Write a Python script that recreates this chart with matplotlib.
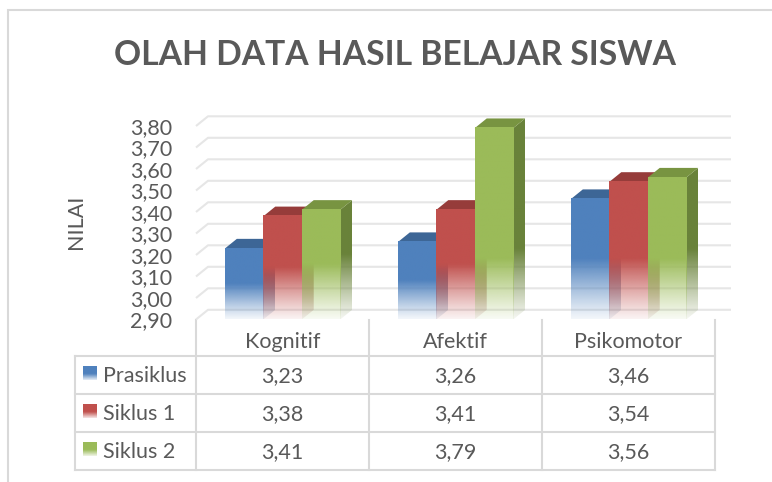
import numpy as np
import matplotlib
matplotlib.use('Agg')
import matplotlib.pyplot as plt
from matplotlib.patches import Polygon
from matplotlib import colors as mcolors

# ---------------- data ----------------
categories = ['Kognitif', 'Afektif', 'Psikomotor']
series_names = ['Prasiklus', 'Siklus 1', 'Siklus 2']
prasiklus = [3.23, 3.26, 3.46]
siklus1 = [3.38, 3.41, 3.54]
siklus2 = [3.41, 3.79, 3.56]
y_ticks = [2.90, 3.00, 3.10, 3.20, 3.30, 3.40, 3.50, 3.60, 3.70, 3.80]
title_text = 'OLAH DATA HASIL BELAJAR SISWA'
y_label = 'NILAI'

series_values = [prasiklus, siklus1, siklus2]
front_colors = ['#4F81BD', '#C0504D', '#9BBB59']
top_colors = ['#3D6696', '#963C3A', '#789441']
side_colors = ['#355A87', '#8A3533', '#69823A']

plt.rcParams['font.family'] = ['Lato', 'DejaVu Sans']
TXT = '#595959'
GRID = '#E6E6E6'
LINE = '#D9D9D9'

W, H, DPI = 772, 482, 100
fig = plt.figure(figsize=(W / DPI, H / DPI), dpi=DPI)
fig.patch.set_facecolor('white')

# overlay axes in pixel coordinates (layout only)
tax = fig.add_axes([0, 0, 1, 1])
tax.set_xlim(0, W)
tax.set_ylim(H, 0)
tax.axis('off')

# main data axes: x = category index, y = value
floor_px, ppu = 319.5, 215.0
col_w, x0_px = 173.0, 196.0
ymin, ymax = 2.90, 3.90
xmin, xmax = -0.5, 2.7
ax = fig.add_axes([x0_px / W, (H - floor_px) / H,
                   (xmax - xmin) * col_w / W, (ymax - ymin) * ppu / H])
ax.patch.set_visible(False)
for sp in ax.spines.values():
    sp.set_visible(False)

dx = 12.0 / col_w
dy = 9.7 / ppu
x_back_end = (731 - x0_px) / col_w - 0.5

# gridlines (side wall + back wall)
for v in y_ticks:
    ax.plot([xmin, xmin + dx, x_back_end], [v, v + dy, v + dy],
            color=GRID, lw=1.5, solid_capstyle='butt', zorder=1, clip_on=False)

# bars
w = 1.0 / 4.5
z = [2.0]


def fade_alpha(ys, base, ft, a0=0.07):
    t = np.clip((ys - base) / (ft - base), 0, 1)
    return a0 + (1 - a0) * t ** 1.1


def grad_img(color, y_lo, y_hi, base, ft, n=300):
    ys = np.linspace(y_hi, y_lo, n)
    rgb = mcolors.to_rgb(color)
    arr = np.zeros((n, 2, 4))
    arr[..., 0], arr[..., 1], arr[..., 2] = rgb
    arr[..., 3] = fade_alpha(ys, base, ft)[:, None]
    return arr


for c in range(len(categories)):
    for s in range(len(series_names)):
        v = series_values[s][c]
        left = c - 1.5 * w + s * w
        ft = ymin + min(0.5 * (v - ymin), 0.28)
        # side face
        side = [(left + w, ymin), (left + w, v), (left + w + dx, v + dy), (left + w + dx, ymin + dy)]
        im = ax.imshow(grad_img(side_colors[s], ymin, v + dy, ymin, ft + dy),
                       extent=(left + w, left + w + dx, ymin, v + dy), origin='upper',
                       aspect='auto', interpolation='bilinear', zorder=z[0])
        im.set_clip_path(Polygon(side, closed=True, transform=ax.transData))
        z[0] += 0.01
        # top face
        top = [(left, v), (left + w, v), (left + w + dx, v + dy), (left + dx, v + dy)]
        ax.add_patch(Polygon(top, closed=True, facecolor=top_colors[s],
                             edgecolor='none', zorder=z[0]))
        z[0] += 0.01
        # front face
        ax.imshow(grad_img(front_colors[s], ymin, v, ymin, ft),
                  extent=(left, left + w, ymin, v), origin='upper',
                  aspect='auto', interpolation='bilinear', zorder=z[0])
        z[0] += 0.01

ax.set_xlim(xmin, xmax)
ax.set_ylim(ymin, ymax)
ax.set_xticks([])
ax.set_yticks(y_ticks)
ax.set_yticklabels([f'{t:.2f}'.replace('.', ',') for t in y_ticks])
ax.tick_params(axis='y', length=0, pad=17.3, labelsize=15.5, labelcolor=TXT)

# title and axis title
tax.text(395.5, 65, title_text, ha='center', va='baseline', fontsize=24.2,
         fontweight='bold', color=TXT)
tax.text(76, 222, y_label, rotation=90, ha='center', va='center', fontsize=15.5, color=TXT)

# chart border (top and left visible)
tax.plot([8, 8, W], [H, 10, 10], color=LINE, lw=1.5, solid_joinstyle='miter')

# data table
col_edges = [x0_px + col_w * k for k in range(4)]
row_edges = [356, 394, 432, 470]
tbl_left = 75
for y in row_edges:
    tax.plot([tbl_left, col_edges[-1]], [y, y], color=LINE, lw=1.5, solid_capstyle='projecting')
tax.plot([tbl_left, tbl_left], [row_edges[0], row_edges[-1]], color=LINE, lw=1.5)
for x in col_edges:
    tax.plot([x, x], [floor_px, row_edges[-1]], color=LINE, lw=1.5)

for k, cat in enumerate(categories):
    cx = (col_edges[k] + col_edges[k + 1]) / 2
    tax.text(cx, 348, cat, ha='center', va='baseline', fontsize=15.5, color=TXT)

for s, name in enumerate(series_names):
    yc = (row_edges[s] + row_edges[s + 1]) / 2
    base = yc + 7
    # legend key
    n = 60
    ys = np.linspace(0, 1, n)
    arr = np.zeros((n, 2, 4))
    arr[..., :3] = mcolors.to_rgb(front_colors[s])
    arr[..., 3] = np.where(ys < 0.55, 1.0, 1.0 - 0.85 * (ys - 0.55) / 0.45)[:, None]
    tax.imshow(arr, extent=(82.7, 96.7, yc + 5, yc - 8.3), origin='upper',
               aspect='auto', interpolation='bilinear')
    tax.text(103.3, base, name, ha='left', va='baseline', fontsize=15.5, color=TXT)
    for k in range(len(categories)):
        cx = (col_edges[k] + col_edges[k + 1]) / 2
        tax.text(cx, base, f'{series_values[s][k]:.2f}'.replace('.', ','),
                 ha='center', va='baseline', fontsize=15.5, color=TXT)

tax.set_xlim(0, W)
tax.set_ylim(H, 0)

fig.savefig('out.png', dpi=DPI, facecolor='white')
